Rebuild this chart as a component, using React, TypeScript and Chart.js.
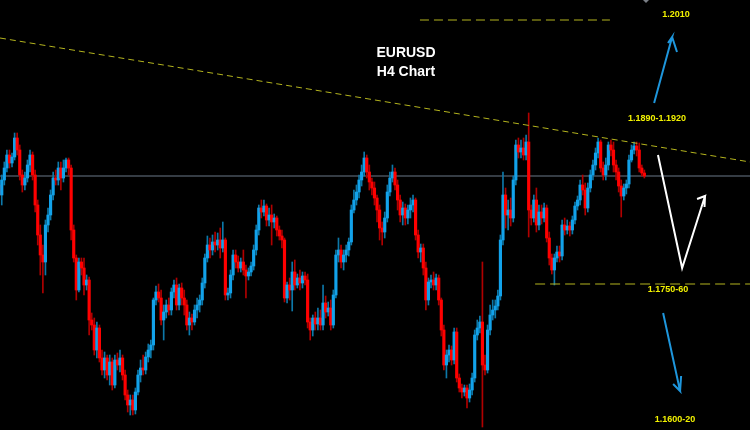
import React, { useEffect, useRef } from 'react';
import { Chart, registerables } from 'chart.js';

Chart.register(...registerables);

// EURUSD H4 candles, prices in pips (price * 10000)
const opens = [
  11844,11854,11844,11859,11871,11884,11876,11882,11901,11889,
  11864,11854,11861,11874,11884,11864,11834,11804,11784,11777,
  11814,11824,11844,11861,11859,11871,11861,11871,11879,11871,
  11809,11781,11749,11777,11771,11754,11759,11719,11714,11689,
  11711,11681,11669,11681,11664,11677,11654,11679,11674,11681,
  11664,11644,11634,11639,11629,11647,11664,11671,11669,11682,
  11689,11694,11739,11747,11741,11719,11727,11734,11729,11747,
  11754,11734,11751,11741,11734,11714,11721,11717,11729,11734,
  11739,11756,11781,11794,11789,11797,11794,11799,11791,11799,
  11744,11746,11764,11784,11777,11771,11777,11769,11763,11767,
  11773,11789,11809,11831,11827,11833,11819,11824,11817,11821,
  11809,11803,11799,11741,11754,11749,11767,11754,11761,11756,
  11763,11759,11717,11709,11721,11715,11721,11714,11736,11727,
  11731,11714,11744,11784,11789,11777,11784,11789,11797,11829,
  11839,11847,11859,11867,11881,11867,11857,11851,11841,11829,
  11811,11807,11821,11847,11861,11867,11854,11839,11824,11831,
  11821,11829,11834,11839,11804,11787,11791,11771,11739,11757,
  11759,11754,11761,11739,11709,11674,11684,11689,11679,11707,
  11661,11651,11647,11651,11641,11649,11661,11704,11711,11717,
  11674,11669,11709,11724,11729,11733,11743,11799,11844,11824,
  11829,11821,11859,11894,11887,11891,11884,11897,11829,11821,
  11839,11814,11827,11821,11831,11801,11781,11769,11781,11787,
  11783,11814,11809,11813,11809,11819,11833,11839,11854,11849,
  11831,11851,11864,11874,11886,11897,11871,11864,11874,11894,
  11889,11874,11867,11853,11843,11851,11855,11879,11889,11893,
  11889,11871,11866,
];
const highs = [
  11859,11859,11864,11877,11889,11889,11886,11906,11906,11894,
  11869,11867,11879,11889,11887,11869,11839,11814,11794,11819,
  11831,11849,11867,11869,11877,11877,11879,11881,11881,11874,
  11814,11784,11781,11781,11781,11764,11762,11726,11721,11717,
  11714,11689,11687,11684,11684,11681,11684,11686,11689,11684,
  11669,11649,11644,11644,11651,11669,11679,11684,11687,11695,
  11699,11741,11753,11755,11749,11734,11739,11741,11751,11759,
  11761,11755,11756,11749,11739,11727,11725,11734,11741,11744,
  11761,11785,11803,11801,11804,11807,11806,11811,11817,11801,
  11751,11769,11789,11789,11783,11781,11789,11774,11771,11777,
  11794,11814,11834,11839,11839,11835,11831,11834,11825,11823,
  11813,11809,11801,11757,11761,11777,11779,11765,11769,11767,
  11767,11765,11721,11724,11727,11731,11729,11754,11743,11737,
  11739,11749,11789,11801,11794,11789,11794,11801,11834,11849,
  11854,11864,11874,11887,11884,11874,11861,11857,11844,11834,
  11817,11827,11854,11867,11874,11871,11859,11844,11837,11835,
  11834,11841,11844,11841,11809,11795,11795,11777,11761,11764,
  11767,11765,11764,11741,11714,11689,11694,11693,11711,11711,
  11665,11655,11654,11654,11655,11666,11709,11719,11723,11777,
  11684,11714,11734,11739,11739,11749,11804,11867,11851,11839,
  11841,11863,11899,11901,11899,11901,11904,11926,11834,11844,
  11851,11834,11834,11836,11834,11807,11785,11785,11793,11793,
  11819,11821,11819,11817,11823,11837,11843,11859,11864,11856,
  11856,11869,11879,11891,11901,11899,11877,11881,11897,11899,
  11897,11879,11871,11859,11855,11859,11884,11894,11897,11897,
  11896,11874,11869,
];
const lows = [
  11834,11839,11834,11854,11867,11871,11872,11879,11884,11859,
  11847,11849,11857,11867,11859,11827,11794,11764,11746,11764,
  11807,11819,11839,11854,11854,11849,11857,11867,11864,11799,
  11777,11739,11747,11764,11744,11749,11704,11709,11684,11681,
  11677,11664,11661,11659,11654,11649,11651,11669,11667,11659,
  11639,11627,11624,11624,11625,11644,11657,11664,11665,11677,
  11681,11689,11734,11737,11714,11699,11721,11724,11724,11741,
  11729,11729,11734,11724,11709,11704,11709,11714,11721,11727,
  11734,11751,11777,11781,11784,11787,11789,11781,11787,11739,
  11739,11741,11759,11771,11767,11767,11764,11741,11759,11763,
  11769,11784,11804,11821,11823,11813,11813,11794,11811,11803,
  11799,11791,11737,11736,11739,11728,11749,11751,11749,11751,
  11754,11711,11699,11703,11709,11709,11709,11709,11721,11723,
  11709,11711,11741,11777,11771,11769,11777,11783,11794,11826,
  11834,11841,11853,11863,11861,11849,11844,11834,11817,11799,
  11794,11801,11817,11843,11857,11849,11829,11817,11814,11814,
  11815,11821,11827,11799,11781,11777,11764,11729,11734,11751,
  11749,11749,11734,11703,11669,11661,11677,11674,11675,11657,
  11647,11641,11643,11631,11637,11644,11657,11699,11706,11612,
  11664,11666,11704,11719,11721,11729,11739,11794,11811,11809,
  11813,11817,11854,11881,11881,11879,11879,11802,11814,11817,
  11807,11809,11815,11817,11797,11774,11765,11754,11777,11777,
  11779,11804,11805,11803,11805,11815,11829,11834,11844,11824,
  11827,11847,11859,11869,11881,11867,11859,11859,11869,11883,
  11867,11859,11847,11822,11839,11845,11851,11877,11885,11883,
  11867,11863,11861,
];
const closes = [
  11854,11844,11859,11871,11884,11876,11882,11901,11889,11864,
  11854,11861,11874,11884,11864,11834,11804,11784,11777,11814,
  11824,11844,11861,11859,11871,11861,11871,11879,11871,11809,
  11781,11749,11777,11771,11754,11759,11719,11714,11689,11711,
  11681,11669,11681,11664,11677,11654,11679,11674,11681,11664,
  11644,11634,11639,11629,11647,11664,11671,11669,11682,11689,
  11694,11739,11747,11741,11719,11727,11734,11729,11747,11754,
  11734,11751,11741,11734,11714,11721,11717,11729,11734,11739,
  11756,11781,11794,11789,11797,11794,11799,11791,11799,11744,
  11746,11764,11784,11777,11771,11777,11769,11763,11767,11773,
  11789,11809,11831,11827,11833,11819,11824,11817,11821,11809,
  11803,11799,11741,11754,11749,11767,11754,11761,11756,11763,
  11759,11717,11709,11721,11715,11721,11714,11736,11727,11731,
  11714,11744,11784,11789,11777,11784,11789,11797,11829,11839,
  11847,11859,11867,11881,11867,11857,11851,11841,11829,11811,
  11807,11821,11847,11861,11867,11854,11839,11824,11831,11821,
  11829,11834,11839,11804,11787,11791,11771,11739,11757,11759,
  11754,11761,11739,11709,11674,11684,11689,11679,11707,11661,
  11651,11647,11651,11641,11649,11661,11704,11711,11717,11674,
  11669,11709,11724,11729,11733,11743,11799,11844,11824,11829,
  11821,11859,11894,11887,11891,11884,11897,11829,11821,11839,
  11814,11827,11821,11831,11801,11781,11769,11781,11787,11783,
  11814,11809,11813,11809,11819,11833,11839,11854,11849,11831,
  11851,11864,11874,11886,11897,11871,11864,11874,11894,11889,
  11874,11867,11853,11843,11851,11855,11879,11889,11893,11889,
  11871,11866,11863,
];

// Annotation levels (price) and bar-index anchors
const currentPrice = 1.1863;
const targetHigh = 1.2019;
const supportLevel = 1.1755;
const trendStart = { x: 1.32, y: 1.2001 };
const trendEnd = { x: 293.1, y: 1.1877 };
const targetHighRange = [164.7, 238.6];
const supportRange = [209.5, 293.1];
const upArrow = [
  { x: 255.8, y: 1.1936 }, { x: 262.8, y: 1.2002 }, { x: 261.2, y: 1.1996 },
  { x: 262.8, y: 1.2002 }, { x: 264.7, y: 1.1987 },
];
const downArrow = [
  { x: 259.3, y: 1.1726 }, { x: 265.9, y: 1.1648 }, { x: 263.2, y: 1.1655 },
  { x: 265.9, y: 1.1648 }, { x: 266.3, y: 1.1663 },
];
const scenarioPath = [
  { x: 257.3, y: 1.1884 }, { x: 266.7, y: 1.1771 }, { x: 275.6, y: 1.1843 },
  { x: 272.5, y: 1.1840 }, { x: 275.6, y: 1.1843 }, { x: 275.4, y: 1.1832 },
];
const titleLines = ['EURUSD', 'H4 Chart'];
const levelLabels = ['1.2010', '1.1890-1.1920', '1.1750-60', '1.1600-20'];

const PIP = 10000;
const X_MIN = 1.32;
const X_MAX = 293.1;
const Y_MIN = 1.1609;
const Y_MAX = 1.2039;

const UP_BODY = '#12a2ea';
const DOWN_BODY = '#ff0000';
const UP_WICK = '#0d78a8';
const DOWN_WICK = '#b00000';
const LEVEL_LINE = '#b4b41e';

const overlayPlugin = {
  id: 'overlayText',
  afterDatasetsDraw(chart: any) {
    const ctx = chart.ctx;
    ctx.save();
    ctx.textAlign = 'center';
    ctx.textBaseline = 'middle';
    ctx.fillStyle = '#ffffff';
    ctx.font = 'bold 14px "Liberation Sans", Arial, sans-serif';
    ctx.fillText(titleLines[0], 406, 53);
    ctx.fillText(titleLines[1], 406, 72);
    ctx.fillStyle = '#f2f200';
    ctx.font = 'bold 9px "Liberation Sans", Arial, sans-serif';
    ctx.fillText(levelLabels[0], 676, 15);
    ctx.fillText(levelLabels[1], 657, 119);
    ctx.fillText(levelLabels[2], 668, 290);
    ctx.fillText(levelLabels[3], 675, 420);
    // small shift marker at top
    ctx.fillStyle = '#7a7f86';
    ctx.beginPath();
    ctx.moveTo(643, 0);
    ctx.lineTo(649, 0);
    ctx.lineTo(646, 3);
    ctx.closePath();
    ctx.fill();
    ctx.restore();
  },
};

export default function App() {
  const ref = useRef<HTMLCanvasElement | null>(null);

  useEffect(() => {
    if (!ref.current) return;
    const idx = opens.map((_, i) => i);
    const up = idx.map((i) => closes[i] >= opens[i]);
    const bodies = idx.map((i) => ({
      x: i,
      y: [Math.min(opens[i], closes[i]) / PIP, Math.max(opens[i], closes[i]) / PIP],
    }));
    const wicks = idx.map((i) => ({ x: i, y: [lows[i] / PIP, highs[i] / PIP] }));

    const lineDs = (data: any[], color: string, width: number, dash: number[], order: number) => ({
      type: 'line' as const,
      data,
      borderColor: color,
      borderWidth: width,
      borderDash: dash,
      pointRadius: 0,
      fill: false,
      tension: 0,
      order,
    });

    const chart = new Chart(ref.current, {
      type: 'bar',
      data: {
        datasets: [
          lineDs([{ x: X_MIN, y: currentPrice }, { x: X_MAX, y: currentPrice }], '#6b7888', 1, [], 5) as any,
          {
            type: 'bar',
            data: wicks as any,
            backgroundColor: up.map((u) => (u ? UP_WICK : DOWN_WICK)),
            barThickness: 1,
            grouped: false,
            borderWidth: 0,
            order: 4,
          } as any,
          {
            type: 'bar',
            data: bodies as any,
            backgroundColor: up.map((u) => (u ? UP_BODY : DOWN_BODY)),
            barThickness: 2.5,
            grouped: false,
            borderWidth: 0,
            order: 3,
          } as any,
          lineDs([trendStart, trendEnd], LEVEL_LINE, 1, [6, 4], 1) as any,
          lineDs([{ x: targetHighRange[0], y: targetHigh }, { x: targetHighRange[1], y: targetHigh }], LEVEL_LINE, 1, [9, 5], 1) as any,
          lineDs([{ x: supportRange[0], y: supportLevel }, { x: supportRange[1], y: supportLevel }], LEVEL_LINE, 1, [10, 5], 1) as any,
          lineDs(upArrow, '#1e96dc', 2, [], 0) as any,
          lineDs(downArrow, '#1e96dc', 2, [], 0) as any,
          lineDs(scenarioPath, '#ffffff', 2, [], 0) as any,
        ],
      },
      options: {
        responsive: false,
        animation: false,
        devicePixelRatio: 1,
        layout: { padding: 0 },
        plugins: { legend: { display: false }, tooltip: { enabled: false } },
        scales: {
          x: { type: 'linear', min: X_MIN, max: X_MAX, display: false, offset: false },
          y: { type: 'linear', min: Y_MIN, max: Y_MAX, display: false },
        },
      },
      plugins: [overlayPlugin],
    });
    return () => chart.destroy();
  }, []);

  return (
    <div style={{ position: 'fixed', left: 0, top: 0, width: 750, height: 430, background: '#000' }}>
      <canvas ref={ref} width={750} height={430} style={{ display: 'block' }} />
    </div>
  );
}
